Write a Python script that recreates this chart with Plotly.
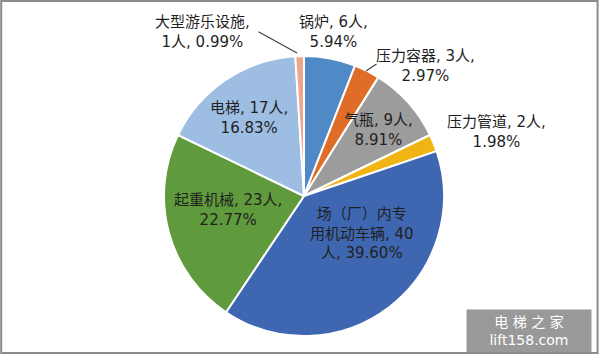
import plotly.graph_objects as go

categories = ["锅炉", "压力容器", "气瓶", "压力管道", "场（厂）内专用机动车辆", "起重机械", "电梯", "大型游乐设施"]
values = [6, 3, 9, 2, 40, 23, 17, 1]
percents = ["5.94%", "2.97%", "8.91%", "1.98%", "39.60%", "22.77%", "16.83%", "0.99%"]
colors = ["#4F89C6", "#DF6D28", "#9C9C9C", "#F0B414", "#3F67B1", "#5F9A3C", "#9DBDE3", "#F1A68C"]

# label text lines (text only) and their paper positions
label_texts = [
    "锅炉, 6人,<br>5.94%",
    "压力容器, 3人,<br>2.97%",
    "气瓶, 9人,<br>8.91%",
    "压力管道, 2人,<br>1.98%",
    "场（厂）内专<br>用机动车辆, 40<br>人, 39.60%",
    "起重机械, 23人,<br>22.77%",
    "电梯, 17人,<br>16.83%",
    "大型游乐设施,<br>1人, 0.99%",
]
label_px = [(333, 32), (425, 66), (378, 130), (496, 132), (362, 233), (228, 210), (249, 118), (202, 32)]

W, H = 600, 354

fig = go.Figure()
fig.add_trace(go.Pie(
    labels=categories,
    values=values,
    sort=False,
    direction="clockwise",
    rotation=0,
    textinfo="none",
    hoverinfo="label+value+percent",
    marker=dict(colors=colors, line=dict(color="white", width=2)),
    domain=dict(x=[164 / W, 444 / W], y=[1 - 336 / H, 1 - 56 / H]),
    showlegend=False,
))

font = dict(family="DejaVu Sans, Noto Sans CJK SC", size=15, color="#1f1f1f")
annotations = []
for t, (px, py) in zip(label_texts, label_px):
    annotations.append(dict(
        x=px / W, y=1 - py / H, xref="paper", yref="paper",
        text=t, showarrow=False, font=font, align="center",
        xanchor="center", yanchor="middle",
    ))

# leader lines
annotations.append(dict(x=366 / W, y=1 - 71 / H, xref="paper", yref="paper", text="",
                        showarrow=True, arrowhead=0, arrowwidth=1.2, arrowcolor="#404040",
                        ax=12, ay=-8))
annotations.append(dict(x=297 / W, y=1 - 53 / H, xref="paper", yref="paper", text="",
                        showarrow=True, arrowhead=0, arrowwidth=1.2, arrowcolor="#404040",
                        ax=-40, ay=-22))

# watermark
annotations.append(dict(
    x=529 / W, y=1 - 331 / H, xref="paper", yref="paper",
    text="电 梯 之 家<br>lift158.com", showarrow=False,
    font=dict(family="DejaVu Sans, Noto Sans CJK SC", size=14, color="white"),
    bgcolor="rgba(135,135,135,0.85)", borderpad=3, width=118, height=36,
    xanchor="center", yanchor="middle",
))

fig.update_layout(
    width=W, height=H,
    margin=dict(l=0, r=0, t=0, b=0),
    paper_bgcolor="white",
    annotations=annotations,
    shapes=[dict(type="rect", xref="paper", yref="paper", x0=0.002, y0=0.003, x1=0.996, y1=0.997,
                 line=dict(color="#8c8c8c", width=2))],
)

fig.write_html("out.html")
